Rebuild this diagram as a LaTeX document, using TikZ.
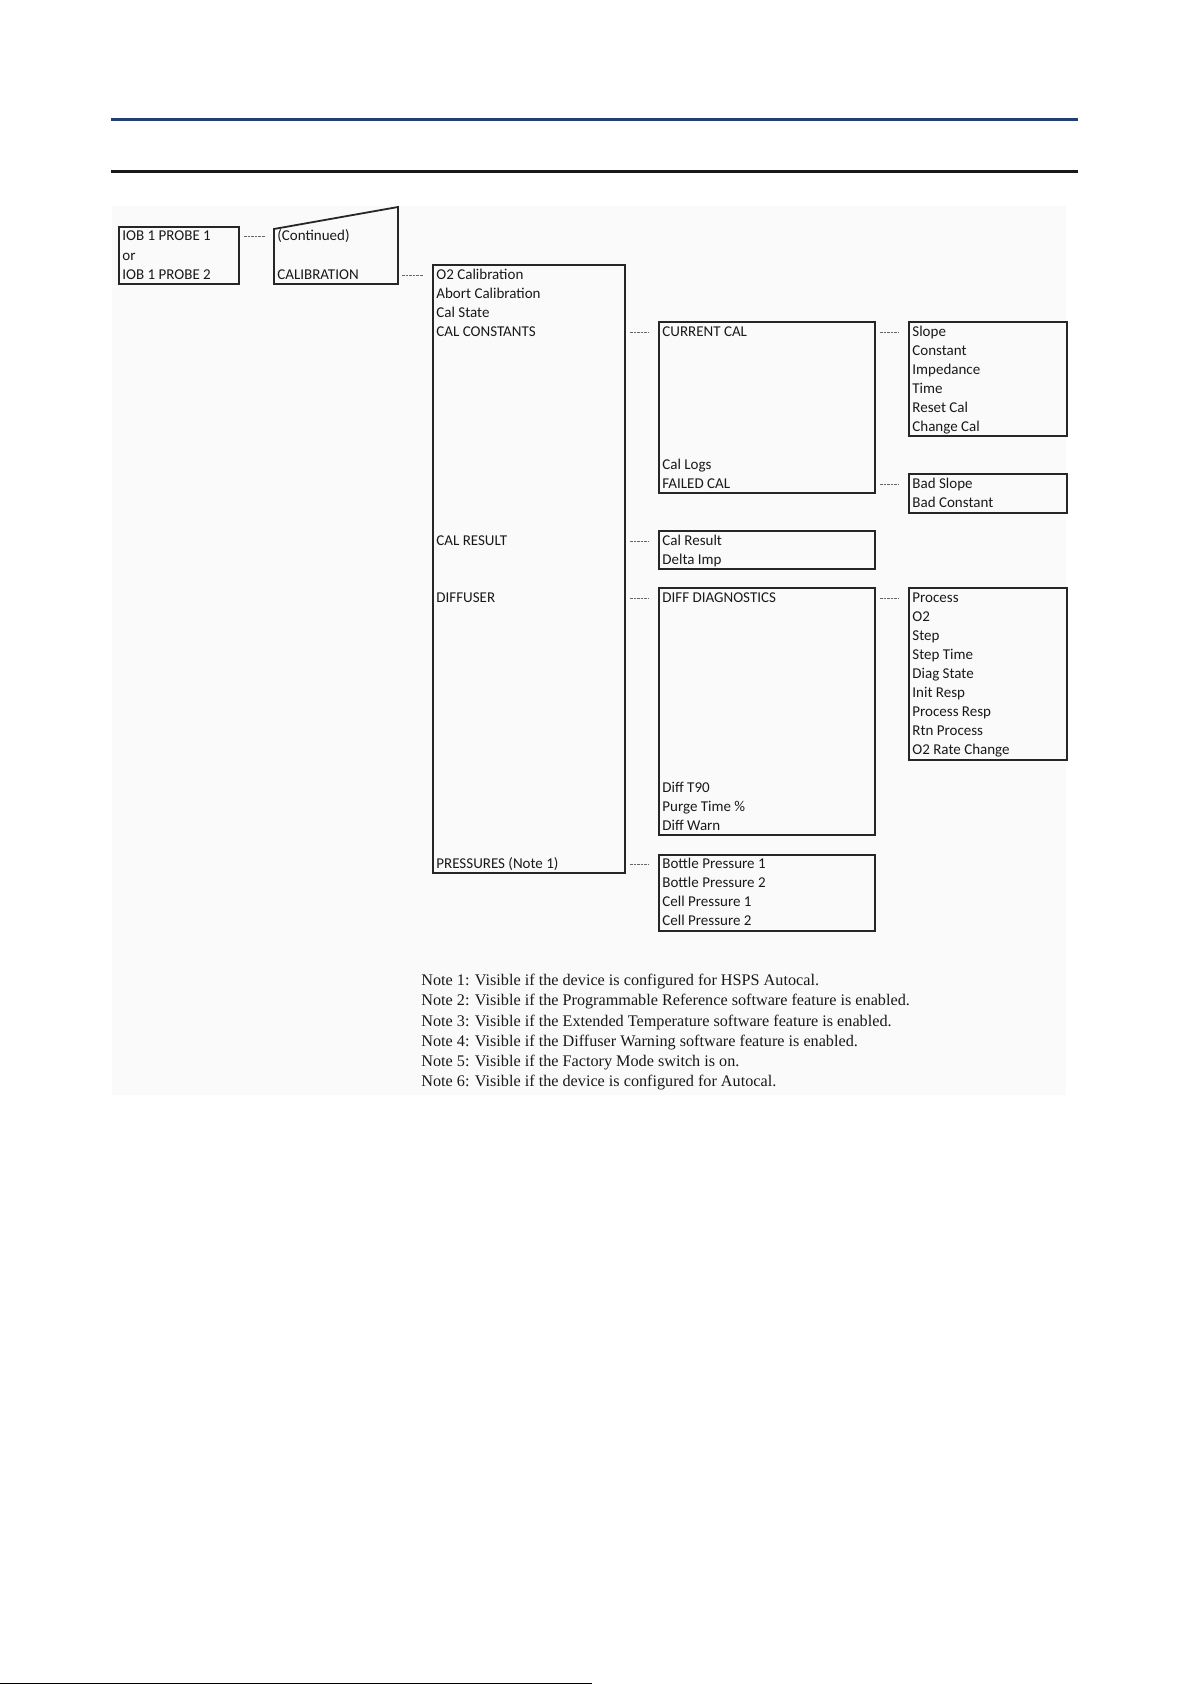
\documentclass[tikz,border=0pt]{standalone}
\usepackage{fontspec}
\newfontfamily\menufont{Carlito}
\newfontfamily\notefont{Liberation Serif}
\usetikzlibrary{fit}
\definecolor{headblue}{RGB}{35,62,112}
\tikzset{
  menubox/.style={rectangle, draw=black!85, line width=0.9pt, inner sep=0pt},
  item/.style={anchor=west, inner sep=0pt, text height=6.2pt, text depth=1.4pt,
               font=\menufont\fontsize{7.5}{9}\selectfont, text=black!90},
  note/.style={anchor=west, inner sep=0pt, text height=5.2pt, text depth=1.6pt,
               font=\notefont\fontsize{8.1}{9}\selectfont, text=black!90},
  link/.style={draw=black!60, line width=0.45pt, dash pattern=on 1.3pt off 0.5pt,
               shorten <=2pt, shorten >=4.5pt},
}
\begin{document}
\begin{tikzpicture}[x=0.5pt, y=-0.5pt]
  \useasboundingbox (0,0) rectangle (1191,1685);
  \fill[black!2] (112,206) rectangle (1066,1095);
  \draw[headblue, line width=1.5pt] (111,120) -- (1078,120);
  \draw[black!90, line width=1.5pt] (111,172) -- (1078,172);
  \draw[black, line width=0.6pt] (0,1683.5) -- (592,1683.5);

  % probe and continued
  \node[menubox, fit={(119,227) (239,284)}] (iob) {};
  \node[item] (probe1) at (122,236) {IOB 1 PROBE 1};
  \node[item] (probeor) at (122,256) {or};
  \node[item] (probe2) at (122,275) {IOB 1 PROBE 2};
  \draw[draw=black!85, line width=0.9pt] (274,284) coordinate (contSW) -- (274,229)
    -- (398,207) -- (398,284) coordinate (contSE) -- cycle;
  \node[item] (contd) at (277,236) {(Continued)};
  \node[item] (calib) at (277,275) {CALIBRATION};
  \draw[link] (probe1.west -| iob.east) -- (contd.west -| contSW);

  % calibration menu
  \node[menubox, fit={(433,265) (625,873)}] (calmenu) {};
  \foreach \t [count=\i from 0] in {O2 Calibration, Abort Calibration, Cal State, CAL CONSTANTS}
    \node[item] (cal\i) at (436, 275+19*\i) {\t};
  \node[item] (calres) at (436,541) {CAL RESULT};
  \node[item] (diffuser) at (436,598) {DIFFUSER};
  \node[item] (press) at (436,864) {PRESSURES (Note 1)};
  \draw[link] (calib.west -| contSE) -- (cal0.west -| calmenu.west);

  % cal constants
  \node[menubox, fit={(659,322) (875,493)}] (curbox) {};
  \node[item] (curcal) at (662,332) {CURRENT CAL};
  \node[item] (callogs) at (662,465) {Cal Logs};
  \node[item] (failcal) at (662,484) {FAILED CAL};
  \draw[link] (cal3.west -| calmenu.east) -- (curcal.west -| curbox.west);

  \node[menubox, fit={(909,322) (1067,436)}] (constbox) {};
  \foreach \t [count=\i from 0] in {Slope, Constant, Impedance, Time, Reset Cal, Change Cal}
    \node[item] (const\i) at (912, 332+19*\i) {\t};
  \draw[link] (curcal.west -| curbox.east) -- (const0.west -| constbox.west);

  \node[menubox, fit={(909,474) (1067,513)}] (failbox) {};
  \node[item] (fail0) at (912,484) {Bad Slope};
  \node[item] (fail1) at (912,503) {Bad Constant};
  \draw[link] (failcal.west -| curbox.east) -- (fail0.west -| failbox.west);

  % cal result
  \node[menubox, fit={(659,531) (875,569)}] (resbox) {};
  \node[item] (res0) at (662,541) {Cal Result};
  \node[item] (res1) at (662,560) {Delta Imp};
  \draw[link] (calres.west -| calmenu.east) -- (res0.west -| resbox.west);

  % diffuser
  \node[menubox, fit={(659,588) (875,835)}] (diagbox) {};
  \node[item] (diag) at (662,598) {DIFF DIAGNOSTICS};
  \foreach \t [count=\i from 0] in {Diff T90, Purge Time \%, Diff Warn}
    \node[item] (diff\i) at (662, 788+19*\i) {\t};
  \draw[link] (diffuser.west -| calmenu.east) -- (diag.west -| diagbox.west);

  \node[menubox, fit={(909,588) (1067,760)}] (procbox) {};
  \foreach \t [count=\i from 0] in {Process, O2, Step, Step Time, Diag State, Init Resp,
      Process Resp, Rtn Process, O2 Rate Change}
    \node[item] (proc\i) at (912, 598+19*\i) {\t};
  \draw[link] (diag.west -| diagbox.east) -- (proc0.west -| procbox.west);

  % pressures
  \node[menubox, fit={(659,855) (875,931)}] (pressbox) {};
  \foreach \t [count=\i from 0] in {Bottle Pressure 1, Bottle Pressure 2, Cell Pressure 1, Cell Pressure 2}
    \node[item] (pr\i) at (662, 864+19*\i) {\t};
  \draw[link] (press.west -| calmenu.east) -- (pr0.west -| pressbox.west);

  % notes
  \foreach \t [count=\i from 0] in {
      Note 1: Visible if the device is configured for HSPS Autocal.,
      Note 2: Visible if the Programmable Reference software feature is enabled.,
      Note 3: Visible if the Extended Temperature software feature is enabled.,
      Note 4: Visible if the Diffuser Warning software feature is enabled.,
      Note 5: Visible if the Factory Mode switch is on.,
      Note 6: Visible if the device is configured for Autocal.}
    \node[note] (note\i) at (421, 982+20.2*\i) {\t};
\end{tikzpicture}
\end{document}
